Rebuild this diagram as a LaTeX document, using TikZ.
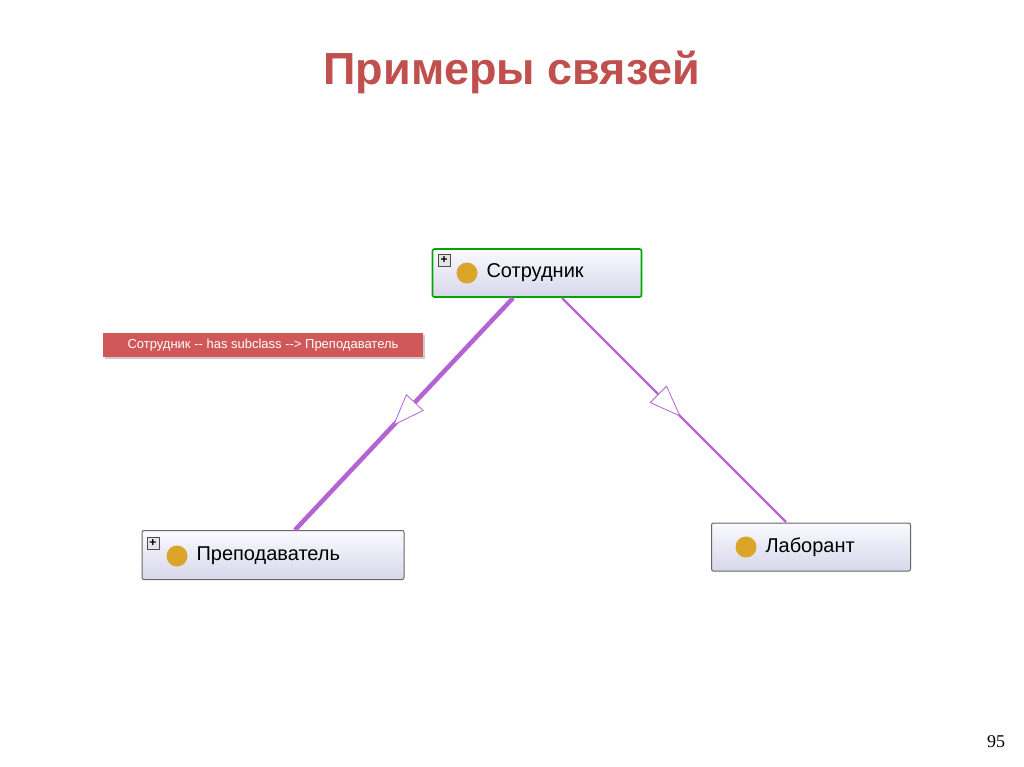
\documentclass[tikz,border=0pt]{standalone}
\usepackage{fontspec}
\setmainfont{Liberation Sans}
\newfontfamily\serifnum{Liberation Serif}
\usetikzlibrary{arrows.meta,decorations.markings,shadows}
\definecolor{titlered}{RGB}{192,80,77}
\definecolor{edgepurple}{RGB}{180,100,210}
\definecolor{boxtop}{RGB}{250,250,255}
\definecolor{boxbot}{RGB}{215,215,235}
\definecolor{dotc}{RGB}{218,165,40}
\definecolor{tipred}{RGB}{208,88,88}
\tikzset{
 cls/.style={draw=#1, rounded corners=2pt, top color=boxtop, bottom color=boxbot, line width=1pt},
 lbl/.style={font=\fontsize{20}{23}\selectfont, anchor=west},
 dotn/.style={circle, fill=dotc, minimum size=21pt, inner sep=0pt},
 plus/.style={draw=black!70, fill=white!90!black, minimum size=12pt, inner sep=0pt, font=\bfseries\fontsize{12}{12}\selectfont},
 mid/.style={postaction={decorate, decoration={markings, mark=at position #1 with {\arrow{Triangle[open, fill=white, length=32pt, width=24pt, line width=0.8pt]}}}}}
}
\begin{document}
\begin{tikzpicture}[x=1pt,y=-1pt]
\useasboundingbox (0,0) rectangle (1024,767);
\fill[white] (0,0) rectangle (1024,767);
\node[font=\bfseries\fontsize{45}{50}\selectfont, text=titlered] (title) at (512,72) {Примеры связей};
% nodes
\node[cls=green!65!black, minimum width=209pt, minimum height=48pt, line width=1.6pt] (sotr) at (537,273) {};
\node[cls=black!60, minimum width=262pt, minimum height=49pt] (prep) at (273,555) {};
\node[cls=black!60, minimum width=199pt, minimum height=48pt] (lab) at (811,547) {};
\node[dotn] (d1) at (467,273) {};
\node[lbl] (t1) at (483,273) {Сотрудник};
\node[plus] (p1) at (444,260) {+};
\node[dotn] (d2) at (177,556) {};
\node[lbl] (t2) at (193,556) {Преподаватель};
\node[plus] (p2) at (153,543) {+};
\node[dotn] (d3) at (746,547) {};
\node[lbl] (t3) at (762,547) {Лаборант};
% edges
\coordinate (a1) at (513,298);
\coordinate (b1) at (295,530);
\coordinate (a2) at (562,298);
\coordinate (b2) at (786,522);
\draw[edgepurple, line width=4.5pt, mid=0.55] (a1) -- (b1);
\draw[edgepurple, line width=2.4pt, mid=0.53] (a2) -- (b2);
% tooltip
\node[fill=tipred, text=white, minimum width=320pt, minimum height=24pt, inner sep=0pt, font=\fontsize{13}{15}\selectfont, drop shadow={shadow xshift=2pt, shadow yshift=-2pt, opacity=0.4}] (tip) at (263,345) {Сотрудник {-}{-} has subclass {-}{-}> Преподаватель};
\node[font=\serifnum\fontsize{18}{20}\selectfont] (num) at (996,742) {95};
\end{tikzpicture}
\end{document}
